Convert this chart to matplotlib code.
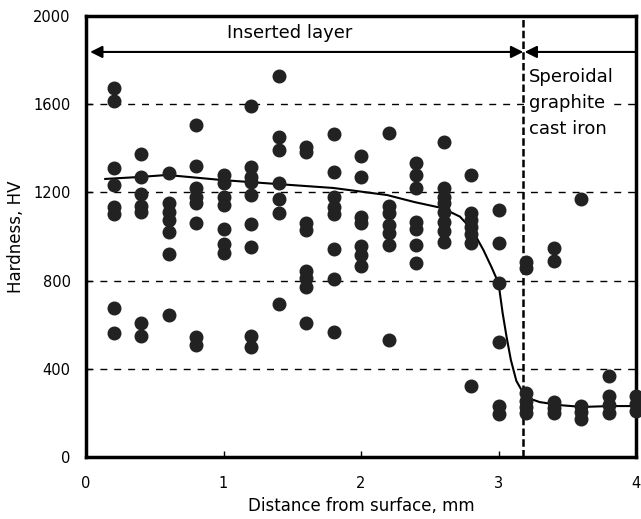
import numpy as np
import matplotlib
matplotlib.use('Agg')
import matplotlib.pyplot as plt

# measured points, grouped by depth (mm)
depths = [0.2, 0.4, 0.6, 0.8, 1.0, 1.2, 1.4, 1.6, 1.8, 2.0,
          2.2, 2.4, 2.6, 2.8, 3.0, 3.2, 3.4, 3.6, 3.8, 4.0]
hardness = [
    [1673, 1615, 1312, 1234, 1134, 1102, 676, 562],
    [1374, 1270, 1195, 1140, 1110, 608, 549],
    [1288, 1150, 1110, 1075, 1020, 920, 645],
    [1506, 1320, 1220, 1179, 1152, 1061, 544, 510],
    [1279, 1243, 1179, 1143, 1035, 966, 925],
    [1590, 1315, 1270, 1247, 1188, 1057, 952, 549, 500],
    [1728, 1449, 1392, 1243, 1170, 1105, 694],
    [1405, 1383, 1061, 1029, 845, 810, 770, 608],
    [1465, 1292, 1179, 1134, 1102, 943, 807, 567],
    [1365, 1270, 1088, 1061, 957, 916, 866],
    [1469, 1140, 1105, 1050, 1015, 960, 531],
    [1333, 1279, 1220, 1066, 1035, 961, 880],
    [1429, 1220, 1180, 1150, 1110, 1066, 1025, 975],
    [1279, 1107, 1075, 1043, 1010, 970, 322],
    [1120, 970, 789, 522, 231, 195],
    [884, 857, 290, 255, 225, 198],
    [950, 888, 249, 222, 198],
    [1170, 232, 205, 172],
    [367, 277, 238, 200],
    [275, 240, 210],
]

# fitted trend line
curve_x = [0.14, 0.39, 0.59, 0.99, 1.19, 1.39, 1.80, 2.19, 2.39, 2.59,
           2.72, 2.81, 2.89, 2.95, 3.00, 3.03, 3.06, 3.09, 3.13, 3.18,
           3.24, 3.30, 3.45, 3.61, 3.81, 4.00]
curve_hv = [1261, 1270, 1279, 1256, 1247, 1238, 1220, 1188, 1156, 1129,
            1090, 1029, 939, 860, 789, 653, 540, 440, 345, 290,
            262, 249, 235, 227, 231, 231]

boundary = 3.18
grid_levels = [400, 800, 1200, 1600]

px = []
py = []
for d, vals in zip(depths, hardness):
    for v in vals:
        px.append(d)
        py.append(v)

fig = plt.figure(figsize=(6.41, 5.19), dpi=100)
ax = fig.add_axes([86/641, 1-457/519, 550/641, 441/519])
ax.set_xlim(0, 4)
ax.set_ylim(0, 2000)

for g in grid_levels:
    ax.axhline(g, color='black', lw=1.0, linestyle=(0, (5, 5)), zorder=1)

ax.plot([boundary, boundary], [0, 2000], color='black', lw=1.8,
        linestyle=(0, (3, 1.3)), zorder=2, clip_on=False)

ax.plot(curve_x, curve_hv, color='black', lw=1.5, zorder=3)
ax.scatter(px, py, s=82, color='#222222', zorder=4, clip_on=False)

# arrows
ax.annotate('', xy=(0.03, 1837), xytext=(boundary, 1837),
            arrowprops=dict(arrowstyle='<|-|>', color='black', lw=1.5,
                            mutation_scale=18, shrinkA=0, shrinkB=0))
ax.annotate('', xy=(boundary + 0.01, 1837), xytext=(4.0, 1837),
            arrowprops=dict(arrowstyle='-|>', color='black', lw=1.5,
                            mutation_scale=18, shrinkA=0, shrinkB=0))
ax.text(1.48, 1925, 'Inserted layer', ha='center', va='center', fontsize=13)
ax.text(3.22, 1605, 'Speroidal\ngraphite\ncast iron', ha='left', va='center',
        fontsize=13, linespacing=1.55,
        bbox=dict(facecolor='white', edgecolor='none', pad=0.5), zorder=5)

ax.set_xticks([0, 1, 2, 3, 4])
ax.set_yticks([0, 400, 800, 1200, 1600, 2000])
ax.tick_params(direction='in', length=4, width=1, labelsize=10.5)
ax.tick_params(axis='x', pad=14)
ax.tick_params(axis='y', pad=11)
for s in ax.spines.values():
    s.set_linewidth(2.5)

ax.set_xlabel('Distance from surface, mm', fontsize=12, labelpad=4)
ax.set_ylabel('Hardness, HV', fontsize=12, labelpad=6)

fig.savefig('out.png', dpi=100)
